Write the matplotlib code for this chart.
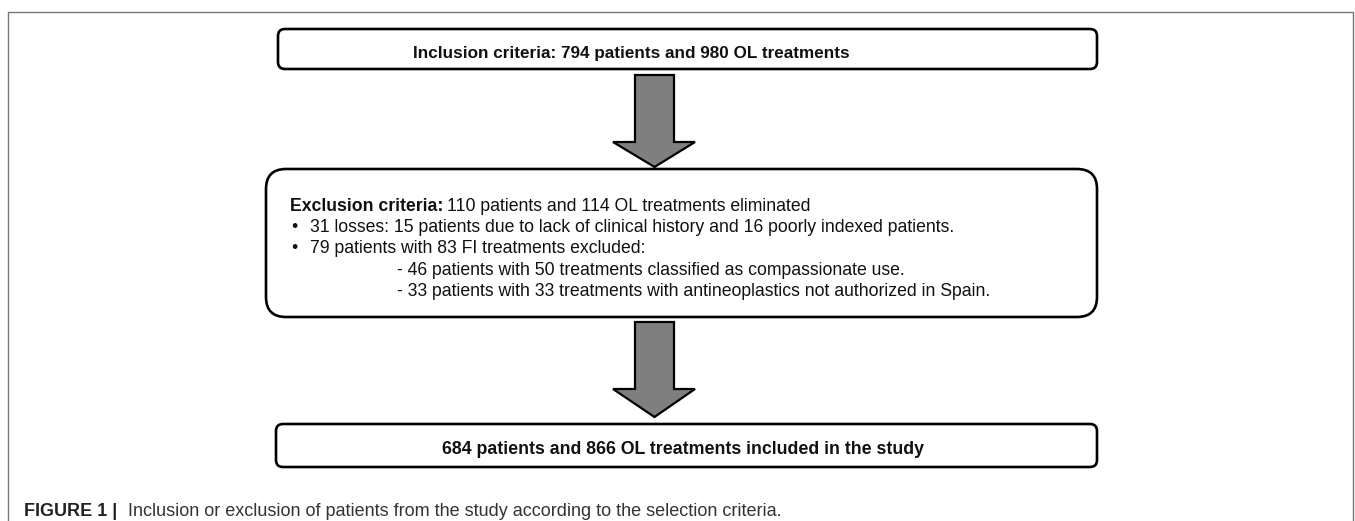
import matplotlib.pyplot as plt
from matplotlib.patches import FancyBboxPatch, Polygon

# texts of the flow chart
top_bold = "Inclusion criteria: 794 patients and 980 OL treatments"
mid_head_bold = "Exclusion criteria:"
mid_head_rest = "110 patients and 114 OL treatments eliminated"
mid_bullets = ["31 losses: 15 patients due to lack of clinical history and 16 poorly indexed patients.",
               "79 patients with 83 FI treatments excluded:"]
mid_sub = ["- 46 patients with 50 treatments classified as compassionate use.",
           "- 33 patients with 33 treatments with antineoplastics not authorized in Spain."]
bottom_bold = "684 patients and 866 OL treatments included in the study"
cap_bold = "FIGURE 1 |"
cap_rest = "Inclusion or exclusion of patients from the study according to the selection criteria."

W, H = 1355, 521
fig = plt.figure(figsize=(W / 100, H / 100), dpi=100)
ax = fig.add_axes([0, 0, 1, 1])
ax.set_xlim(0, W)
ax.set_ylim(H, 0)
ax.axis('off')
fig.canvas.draw()
rend = fig.canvas.get_renderer()

FONT = 'Liberation Sans'


def width(t):
    return t.get_window_extent(renderer=rend).width


def put(x, y, s, weight='normal', size=12, color='#111111', target=None):
    t = ax.text(x, y, s, fontsize=size, fontweight=weight, family=FONT,
                color=color, ha='left', va='baseline')
    if target is not None:
        t.set_fontsize(size * target / width(t))
    return t


# outer frame (open at the bottom)
ax.plot([8, 8, 1353, 1353], [H + 5, 12, 12, H + 5], color='#777777', lw=1.0)


def box(x0, y0, x1, y1, r):
    ax.add_patch(FancyBboxPatch((x0, y0), x1 - x0, y1 - y0,
                                boxstyle=f"round,pad=0,rounding_size={r}",
                                facecolor='white', edgecolor='black', lw=1.9))


box(278, 29, 1097, 69, 7)
box(266, 169, 1097, 317, 20)
box(276, 424, 1097, 467, 7)


def arrow(top, head, tip):
    pts = [(635, top), (674, top), (674, head), (695, head), (654.5, tip),
           (613, head), (635, head)]
    ax.add_patch(Polygon(pts, closed=True, facecolor='#7f7f7f',
                         edgecolor='black', lw=1.6))


arrow(75, 142, 167)
arrow(322, 389, 417)

# top box
put(413, 58, top_bold, weight='bold', target=433)

# middle box: header fitted to its width in the picture
t = put(290, 211, mid_head_bold, weight='bold', size=12)
t2 = put(290, 211, mid_head_rest, size=12)
k = 520 / (width(t) + 4 + width(t2))
size_mid = 12 * k
t.set_fontsize(size_mid)
t2.set_fontsize(size_mid)
t2.set_x(290 + width(t) + 4)

for i, s in enumerate(mid_bullets):
    y = 232 + i * 21.3
    put(291, y, "\u2022", size=size_mid)
    put(310, y, s, size=size_mid)

for i, s in enumerate(mid_sub):
    put(397, 275 + i * 21.3, s, size=size_mid)

# bottom box
put(442, 454, bottom_bold, weight='bold', target=479)

# caption
c1 = put(24, 516, cap_bold, weight='bold', size=12, color='#222222', target=93)
c2 = put(128, 516, cap_rest, size=12, color='#333333', target=655)

fig.savefig('out.png', dpi=100)
